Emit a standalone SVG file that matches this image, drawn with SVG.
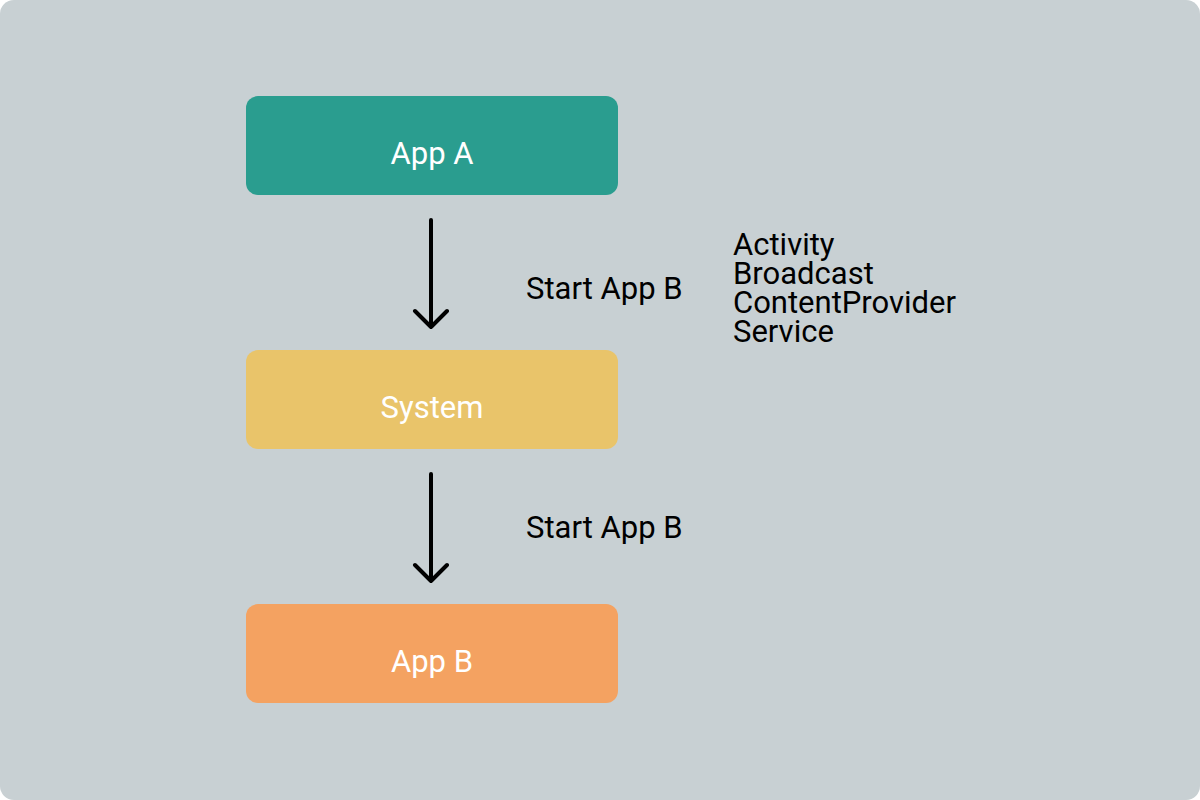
<svg xmlns="http://www.w3.org/2000/svg" width="1200" height="800" viewBox="0 0 1200 800">
<style>
.lbl{font-family:Roboto,"Liberation Sans",sans-serif;font-size:31px;fill:#000}
.nt{font-family:Roboto,"Liberation Sans",sans-serif;font-size:31px;fill:#fff;text-anchor:middle}
.edge{stroke:#000;stroke-width:4;fill:none;stroke-linecap:round;stroke-linejoin:round}
</style>
<rect x="0" y="0" width="1200" height="800" fill="#fff"/>
<rect x="0" y="0" width="1200" height="800" rx="14" fill="#C8D0D3"/>
<g id="appA"><rect x="246" y="96" width="372" height="99" rx="12" fill="#2A9D8F"/><text class="nt" x="432" y="164">App A</text></g>
<g id="system"><rect x="246" y="350" width="372" height="99" rx="12" fill="#E9C46A"/><text class="nt" x="432" y="418">System</text></g>
<g id="appB"><rect x="246" y="604" width="372" height="99" rx="12" fill="#F4A261"/><text class="nt" x="432" y="672">App B</text></g>
<g id="connectors">
<path class="edge" d="M431 220V327M415 311L431 327L447 311"/>
<path class="edge" d="M431 474V581M415 565L431 581L447 565"/>
</g>
<g id="labels">
<text class="lbl" x="526" y="299">Start App B</text>
<text class="lbl" x="526" y="538">Start App B</text>
<text class="lbl" x="733" y="255">Activity</text>
<text class="lbl" x="733" y="284">Broadcast</text>
<text class="lbl" x="733" y="313">ContentProvider</text>
<text class="lbl" x="733" y="342">Service</text>
</g>
</svg>
